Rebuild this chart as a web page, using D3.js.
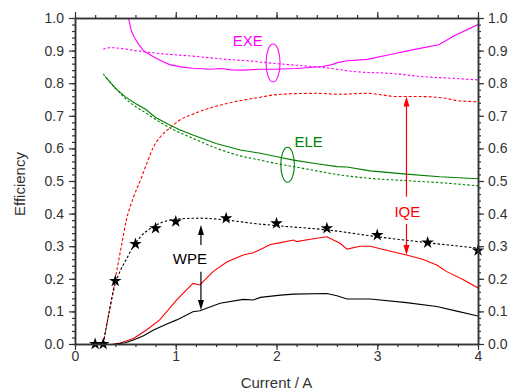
<!DOCTYPE html>
<html>
<head>
<meta charset="utf-8">
<script src="https://cdn.jsdelivr.net/npm/d3@7"></script>
<style>
  body { margin: 0; background: #fff; }
  svg { display: block; font-family: "Liberation Sans", Arial, sans-serif; }
  .axis path, .axis line { stroke: #333; }
  .axis text { fill: #333; font-size: 14px; }
</style>
</head>
<body>
<svg width="511" height="392"></svg>
<script>
// measured curves (solid) and fitted curves (dotted), [current, efficiency]
const exeMeasured = [[0.53,1.0],[0.56,0.96],[0.59,0.94],[0.63,0.92],[0.68,0.90],[0.74,0.888],[0.81,0.876],[0.88,0.865],[0.94,0.857],[1.05,0.85],[1.17,0.846],[1.34,0.843],[1.45,0.845],[1.55,0.841],[1.67,0.84],[1.84,0.843],[1.97,0.843],[2.2,0.845],[2.46,0.851],[2.55,0.857],[2.62,0.864],[2.70,0.869],[2.90,0.873],[3.13,0.888],[3.36,0.903],[3.61,0.918],[3.76,0.945],[4.0,0.98]];
const exeFit = [[0.28,0.904],[0.35,0.909],[0.45,0.907],[0.6,0.9],[0.84,0.891],[1.17,0.883],[1.51,0.873],[1.7,0.869],[1.97,0.861],[2.2,0.855],[2.47,0.848],[2.8,0.835],[3.13,0.83],[3.46,0.82],[3.75,0.815],[4.0,0.81]];
const eleMeasured = [[0.3,0.82],[0.4,0.785],[0.5,0.758],[0.6,0.738],[0.7,0.72],[0.8,0.695],[0.95,0.67],[1.05,0.656],[1.17,0.641],[1.4,0.615],[1.64,0.595],[1.84,0.585],[2.04,0.572],[2.17,0.564],[2.4,0.553],[2.6,0.544],[2.7,0.543],[2.93,0.531],[3.29,0.521],[3.62,0.513],[4.0,0.507]];
const eleFit = [[0.28,0.828],[0.4,0.785],[0.51,0.75],[0.71,0.707],[0.94,0.663],[1.17,0.631],[1.4,0.601],[1.64,0.577],[1.84,0.564],[2.04,0.551],[2.17,0.544],[2.4,0.531],[2.6,0.52],[2.93,0.508],[3.29,0.501],[3.62,0.495],[4.0,0.485]];
const iqeMeasured = [[0.38,0.0],[0.45,0.003],[0.58,0.017],[0.71,0.043],[0.84,0.074],[1.01,0.135],[1.17,0.186],[1.24,0.181],[1.37,0.222],[1.51,0.252],[1.67,0.273],[1.77,0.28],[1.84,0.29],[1.94,0.305],[2.04,0.311],[2.17,0.319],[2.20,0.314],[2.35,0.322],[2.50,0.329],[2.63,0.309],[2.70,0.291],[2.83,0.30],[2.93,0.30],[3.1,0.287],[3.29,0.273],[3.45,0.26],[3.59,0.242],[3.69,0.222],[3.85,0.198],[4.0,0.172]];
const iqeFit = [[0.28,0.0],[0.34,0.1],[0.40,0.2],[0.46,0.3],[0.51,0.38],[0.58,0.45],[0.65,0.503],[0.72,0.56],[0.78,0.605],[0.86,0.64],[0.96,0.667],[1.04,0.687],[1.17,0.705],[1.34,0.724],[1.51,0.738],[1.7,0.75],[1.84,0.757],[1.97,0.764],[2.2,0.768],[2.4,0.769],[2.63,0.766],[2.9,0.769],[3.05,0.764],[3.19,0.759],[3.43,0.759],[3.69,0.753],[3.76,0.748],[4.0,0.743]];
const wpeMeasured = [[0.40,0.0],[0.5,0.004],[0.58,0.012],[0.68,0.025],[0.78,0.043],[0.9,0.06],[1.01,0.074],[1.17,0.099],[1.24,0.102],[1.44,0.125],[1.67,0.137],[1.77,0.135],[1.84,0.143],[2.04,0.15],[2.17,0.153],[2.5,0.155],[2.6,0.148],[2.70,0.138],[2.93,0.138],[3.29,0.127],[3.59,0.115],[3.8,0.1],[4.0,0.086]];
const wpeFit = [[0.28,0.0],[0.34,0.1],[0.40,0.185],[0.45,0.225],[0.51,0.26],[0.58,0.3],[0.65,0.329],[0.75,0.355],[0.84,0.37],[1.01,0.383],[1.24,0.386],[1.51,0.38],[1.77,0.37],[2.04,0.362],[2.5,0.35],[3.0,0.329],[3.49,0.311],[4.0,0.294]];

// star markers (WPE points)
const starCurrent = [0.2, 0.28, 0.4, 0.6, 0.8, 1.0, 1.5, 2.0, 2.5, 3.0, 3.5, 4.0];
const starWpe = [0, 0, 0.193, 0.307, 0.355, 0.376, 0.386, 0.37, 0.355, 0.334, 0.311, 0.287];

// ticks
const xMajor = [0, 1, 2, 3, 4];
const xMinor = d3.range(0, 4.01, 0.2);
const yMajor = d3.range(0, 1.01, 0.1);
const yMinor = d3.range(0, 1.001, 0.02);

const svg = d3.select('svg');
const x = d3.scaleLinear().domain([0, 4]).range([75, 478]);
const y = d3.scaleLinear().domain([0, 1]).range([344, 18]);

const magenta = '#ff00ff', green = '#008000', red = '#ff0000', black = '#000';

// clip to plot box
svg.append('clipPath').attr('id', 'plot')
    .append('rect').attr('x', 75).attr('y', 18).attr('width', 403).attr('height', 326);

const line = d3.line().x(d => x(d[0])).y(d => y(d[1]));
const smooth = d3.line().x(d => x(d[0])).y(d => y(d[1])).curve(d3.curveMonotoneX);

const curves = [
    { data: iqeFit, color: red, dash: '3,2', path: smooth },
    { data: wpeFit, color: black, dash: '2.5,2', path: smooth },
    { data: exeFit, color: magenta, dash: '2.5,2', path: smooth },
    { data: eleFit, color: green, dash: '2.5,2', path: smooth },
    { data: exeMeasured, color: magenta, dash: null, path: line },
    { data: eleMeasured, color: green, dash: null, path: line },
    { data: iqeMeasured, color: red, dash: null, path: line },
    { data: wpeMeasured, color: black, dash: null, path: line }
];

const g = svg.append('g').attr('clip-path', 'url(#plot)');
curves.forEach(c => {
    g.append('path')
        .attr('d', c.path(c.data))
        .attr('fill', 'none')
        .attr('stroke', c.color)
        .attr('stroke-width', 1.1)
        .attr('stroke-dasharray', c.dash);
});

// stars
const star = d3.symbol().type(d3.symbolStar).size(48);
svg.append('g').selectAll('path')
    .data(starCurrent.map((c, i) => [c, starWpe[i]]))
    .join('path')
    .attr('transform', d => `translate(${x(d[0])},${y(d[1])})`)
    .attr('d', star)
    .attr('fill', black);

// axes: major ticks and minor ticks, outward on all four sides
function addAxis(axis, tx, ty, values, size, labels) {
    const a = axis.tickValues(values).tickSizeInner(size).tickSizeOuter(0);
    if (!labels) a.tickFormat('');
    const sel = svg.append('g').attr('class', 'axis')
        .attr('transform', `translate(${tx},${ty})`)
        .call(a);
    sel.select('.domain').attr('stroke-width', 1.5);
    return sel;
}
addAxis(d3.axisBottom(x).tickPadding(1), 0, 344, xMinor, 3, false);
addAxis(d3.axisBottom(x).tickPadding(1).tickFormat(d3.format('d')), 0, 344, xMajor, 6, true);
addAxis(d3.axisTop(x), 0, 18, xMinor, 3, false);
addAxis(d3.axisTop(x), 0, 18, xMajor, 6, false);
addAxis(d3.axisLeft(y), 75, 0, yMinor, 3, false);
addAxis(d3.axisLeft(y).tickPadding(5).tickFormat(d3.format('.1f')), 75, 0, yMajor, 6, true);
addAxis(d3.axisRight(y), 478, 0, yMinor, 3, false);
addAxis(d3.axisRight(y).tickPadding(4).tickFormat(d3.format('.1f')), 478, 0, yMajor, 6, true);
svg.selectAll('.axis .tick line').attr('stroke-width', 1.2);

// axis titles
svg.append('text')
    .attr('x', 276.5).attr('y', 388)
    .attr('text-anchor', 'middle')
    .attr('font-size', 15).attr('fill', '#333')
    .text('Current / A');
svg.append('text')
    .attr('transform', 'translate(25,184) rotate(-90)')
    .attr('text-anchor', 'middle')
    .attr('font-size', 15).attr('fill', '#333')
    .text('Efficiency');

// annotations
function label(text, cx, cy, color) {
    svg.append('text')
        .attr('x', x(cx)).attr('y', y(cy))
        .attr('font-size', 15).attr('fill', color)
        .text(text);
}
function ring(cx, cy, rx, ry, color) {
    svg.append('ellipse')
        .attr('cx', x(cx)).attr('cy', y(cy))
        .attr('rx', rx).attr('ry', ry)
        .attr('fill', 'none').attr('stroke', color).attr('stroke-width', 1.1);
}
function arrow(cx, from, to, color) {
    const x0 = x(cx), y0 = y(from), y1 = y(to);
    const dir = y1 < y0 ? 1 : -1;
    svg.append('line')
        .attr('x1', x0).attr('x2', x0)
        .attr('y1', y0).attr('y2', y1 + dir * 8)
        .attr('stroke', color).attr('stroke-width', 1.2);
    svg.append('path')
        .attr('d', `M${x0},${y1} L${x0 - 3},${y1 + dir * 10} L${x0 + 3},${y1 + dir * 10} Z`)
        .attr('fill', color);
}

label('EXE', 1.566, 0.914, magenta);
ring(1.966, 0.862, 7, 19, magenta);
label('ELE', 2.178, 0.603, green);
ring(2.11, 0.55, 6.8, 17.5, green);

label('IQE', 3.17, 0.39, red);
arrow(3.29, 0.452, 0.759, red);
arrow(3.29, 0.368, 0.273, red);

label('WPE', 0.97, 0.245, black);
arrow(1.25, 0.304, 0.365, black);
arrow(1.25, 0.222, 0.104, black);
</script>
</body>
</html>
